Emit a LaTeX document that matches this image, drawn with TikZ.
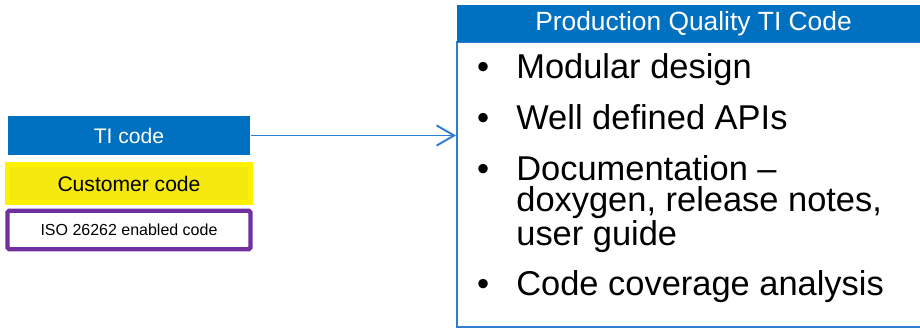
\documentclass[tikz,border=0pt]{standalone}
\usepackage{fontspec}
\setmainfont{Liberation Sans}
\usetikzlibrary{arrows.meta}
\definecolor{tiblue}{HTML}{0070C0}
\definecolor{lineblue}{HTML}{2E7DD2}
\definecolor{custyellow}{HTML}{F4E80F}
\definecolor{isopurple}{HTML}{7030A0}
\tikzset{
  codebox/.style={minimum width=4.86cm, minimum height=0.77cm, inner sep=0pt},
  item/.style={anchor=base west, inner sep=0pt,
    font=\fontsize{19.6}{17.9}\selectfont},
}
\newcommand{\bul}{\llap{•\hspace{15.5pt}}}
\begin{document}
\begin{tikzpicture}[x=0.02cm, y=-0.02cm]
            \path[use as bounding box, clip] (0,0) rectangle (920,328);
            % Code layers
            \node[codebox, fill=tiblue, text=white, font=\fontsize{12}{14}\selectfont] (ti) at (129,135.5) {TI code};
            \node[codebox, fill=custyellow, draw=yellow, line width=2.8pt, font=\fontsize{12}{14}\selectfont] (cust) at (129,183.5) {Customer code};
            \node[codebox, draw=isopurple, line width=2.5pt, rounded corners=1pt, font=\fontsize{9.1}{11}\selectfont] (iso) at (129,230) {ISO 26262 enabled code};
            % Production box
            \node[draw=lineblue, line width=1.1pt, minimum width=9.46cm, minimum height=5.7cm] (main) at (693.5,184.5) {};
            \node[fill=tiblue, text=white, minimum width=9.46cm, minimum height=0.74cm, inner sep=0pt,
              font=\fontsize{15}{17}\selectfont] (head) at (693.5,23.5) {Production Quality TI Code};
            \draw [lineblue, line width=1.1pt] [-{Straight Barb[length=10pt, width=11.5pt]}] (ti.east) -- (ti.east -| main.west);
            % Items
            \node[item] (modular) at (516,78) {\bul Modular design};
            \node[item] (apis) at (516,129) {\bul Well defined APIs};
            \node[item] (docs) at (516,180) {\vtop{\hbox{\bul Documentation --}\hbox{doxygen, release notes,}\hbox{user guide}}};
            \node[item] (cover) at (516,295) {\bul Code coverage analysis};
        \end{tikzpicture}
\end{document}
